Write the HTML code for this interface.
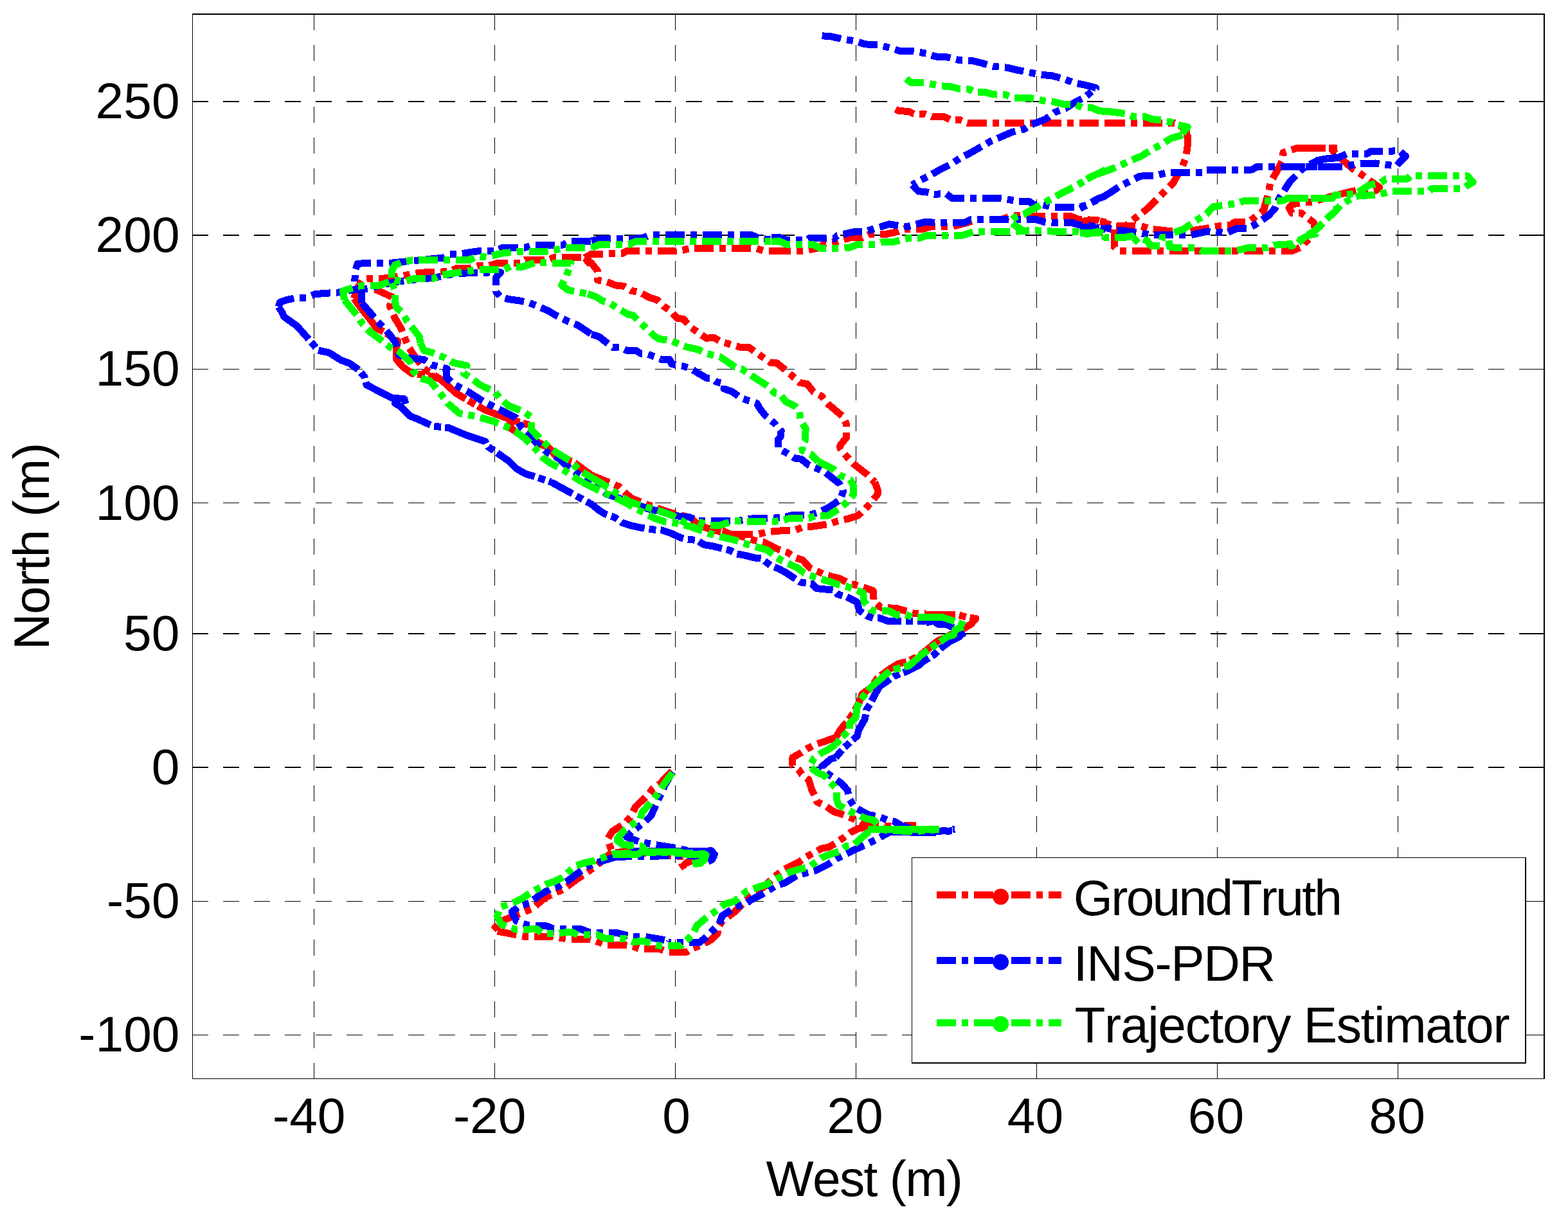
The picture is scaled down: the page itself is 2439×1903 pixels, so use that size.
<!DOCTYPE html>
<html lang="en"><head><meta charset="utf-8"><title>Trajectory comparison: GroundTruth, INS-PDR, Trajectory Estimator</title>
<style>html,body{margin:0;padding:0;background:#fff;overflow:hidden;}body{width:2439px;height:1903px;overflow:hidden;}svg{display:block;}text{font-family:"Liberation Sans",sans-serif;font-size:78.5px;fill:#000;font-kerning:none;white-space:pre;}</style></head><body>
<svg width="2439" height="1903" viewBox="0 0 2439 1903">
<rect x="0" y="0" width="2439" height="1903" fill="#ffffff"/>
<g id="grid" stroke="#000" fill="none" shape-rendering="crispEdges">
<line x1="488.5" y1="1679" x2="488.5" y2="21" stroke-width="1" stroke-dasharray="25 23"/>
<line x1="769.5" y1="1679" x2="769.5" y2="21" stroke-width="1" stroke-dasharray="25 23"/>
<line x1="1050.5" y1="1679" x2="1050.5" y2="21" stroke-width="1" stroke-dasharray="25 23"/>
<line x1="1331.5" y1="1679" x2="1331.5" y2="21" stroke-width="1" stroke-dasharray="25 23"/>
<line x1="1612.5" y1="1679" x2="1612.5" y2="21" stroke-width="1" stroke-dasharray="25 23"/>
<line x1="1893.5" y1="1679" x2="1893.5" y2="21" stroke-width="1" stroke-dasharray="25 23"/>
<line x1="2174.5" y1="1679" x2="2174.5" y2="21" stroke-width="1" stroke-dasharray="25 23"/>
<line x1="299" y1="158.0" x2="2403" y2="158.0" stroke-width="2" stroke-dasharray="25 23"/>
<line x1="299" y1="366.0" x2="2403" y2="366.0" stroke-width="2" stroke-dasharray="25 23"/>
<line x1="299" y1="574.5" x2="2403" y2="574.5" stroke-width="1" stroke-dasharray="25 23"/>
<line x1="299" y1="782.5" x2="2403" y2="782.5" stroke-width="1" stroke-dasharray="25 23"/>
<line x1="299" y1="986.0" x2="2403" y2="986.0" stroke-width="2" stroke-dasharray="25 23"/>
<line x1="299" y1="1194.0" x2="2403" y2="1194.0" stroke-width="2" stroke-dasharray="25 23"/>
<line x1="299" y1="1402.5" x2="2403" y2="1402.5" stroke-width="1" stroke-dasharray="25 23"/>
<line x1="299" y1="1610.5" x2="2403" y2="1610.5" stroke-width="1" stroke-dasharray="25 23"/>
</g>
<g id="curve-red" fill="none" stroke="#ff0000" stroke-width="11" stroke-dasharray="30 9 10 9" stroke-linejoin="round" stroke-linecap="butt" shape-rendering="crispEdges">
<title>GroundTruth</title>
<polyline points="1680.0,344.6 1705.6,342.2 1719.4,347.4 1732.2,351.0 1753.3,351.4 1775.2,351.9 1789.9,356.2 1817.4,359.3 1844.8,360.2 1863.2,357.4 1877.8,355.1 1897.9,351.4 1914.4,350.1 1919.9,345.9 1941.0,345.9 1951.1,338.6 1965.7,327.2 1968.5,316.2 1973.0,301.6 1975.8,285.1 1984.9,268.6 1994.1,251.2 1995.9,237.5 2017.0,230.5 2080.0,230.5"/>
<polyline points="1847.0,210.0 1847.0,228.3 1844.8,244.8 1839.3,258.5 1824.7,285.1 1804.5,305.2 1783.8,325.4 1761.5,342.8 1750.5,352.9"/>
<polyline points="1733.1,356.5 1733.1,384.0 1739.5,390.4 2009.7,390.4 2025.2,384.0 2032.6,374.8 2041.7,365.7 2045.4,356.5 2043.6,346.4 2024.3,331.8 2009.7,331.8 2005.1,323.6 2009.7,318.1 2026.2,314.8 2040.8,314.8 2055.5,309.8 2080.0,303.4"/>
<polyline points="2080.0,303.4 2109.9,296.1 2128.2,298.3 2139.2,297.0 2145.6,291.5 2130.0,280.5 2119.0,272.3 2104.4,263.1 2086.1,246.6 2076.0,237.5 2069.6,230.5 2017.0,230.5"/>
<polyline points="1392.9,170.0 1397.6,172.4 1414.3,173.6 1421.4,177.1 1438.1,177.1 1450.0,181.9 1469.0,181.9 1478.6,186.7 1492.9,186.7 1504.8,191.4 1519.0,191.4 1720.0,191.4"/>
<polyline points="1200.0,390.5 1219.0,390.5 1233.3,390.5 1250.0,390.5 1273.8,385.7 1283.3,378.6 1300.0,376.2 1326.2,369.0 1340.5,370.2 1352.4,364.3 1378.6,364.3 1395.2,360.7 1407.1,356.0 1436.9,356.0 1448.8,352.4 1482.1,352.4 1504.8,346.4 1519.0,341.7 1557.1,341.7 1573.8,335.7 1604.8,335.7 1621.4,336.9 1666.7,336.9 1678.6,341.7 1692.9,341.7 1720.0,345.7"/>
<polyline points="550.7,464.3 554.8,450.0 564.3,434.5 576.2,433.3 604.8,432.9 640.5,426.7 652.4,424.3 697.6,422.6 709.5,417.9 728.6,417.9 742.9,413.8 759.5,413.8 773.8,409.5 809.5,409.5 816.7,404.3 852.4,404.3 861.9,400.5 876.2,400.0 909.5,401.2 920.0,413.1"/>
<polyline points="550.7,464.3 561.9,479.8 576.2,497.6 585.7,510.7 600.0,517.9 619.0,531.0 616.7,540.5 616.7,559.5 627.4,571.4 640.5,581.0 673.8,585.7 685.7,590.5 709.5,611.9 733.3,626.2 754.8,638.1 792.9,652.4 821.4,660.7 831.0,685.7 852.4,695.2 866.7,711.9 890.5,717.9 920.0,739.3" stroke-dasharray="70 5 12 5"/>
<polyline points="583.3,450.0 609.5,461.9 606.4,476.2 614.3,495.2 623.8,510.7 634.5,538.1 645.2,554.8 659.5,573.8 685.7,590.5"/>
<polyline points="792.9,652.4 795.2,666.7 811.9,678.6 828.6,688.1 852.4,695.2"/>
<polyline points="909.5,401.2 920.0,395.2 967.6,394.8 974.8,390.5 1048.6,390.5 1061.7,389.3 1074.8,386.2 1162.9,386.2 1177.1,386.9 1189.0,390.5 1200.0,390.5"/>
<polyline points="909.5,401.2 920.0,409.5 929.5,421.4 929.5,435.7 943.8,438.6 958.1,444.0 970.0,445.2 981.9,452.4 995.0,454.8 1010.5,463.1 1022.4,466.7 1031.9,476.2 1042.6,483.3 1053.3,495.2 1062.9,496.4 1074.8,509.5 1086.7,517.9 1098.6,526.2 1110.5,525.5 1122.4,532.1 1135.5,535.7 1152.1,540.5 1165.2,540.5 1174.8,547.6 1186.7,556.0 1198.6,564.3 1208.1,564.8 1222.4,576.2 1231.9,584.5 1243.8,595.2 1255.7,597.6 1265.2,609.5 1278.3,616.7 1287.9,628.6 1310.5,647.6 1316.4,659.5 1316.4,681.0 1306.9,692.9 1306.9,697.6 1316.4,709.5 1327.1,721.4 1348.6,738.1 1360.5,750.0"/>
<polyline points="1360.5,750.0 1365.2,761.9 1365.2,769.0 1355.7,781.0 1346.2,791.7 1334.3,802.4 1320.0,807.1 1303.3,810.7 1289.0,815.5 1265.2,819.0 1248.6,820.2 1236.7,825.0 1208.1,826.2 1192.6,828.1 1179.5,831.0 1134.3,831.0 1124.8,826.2 1098.6,821.4 1086.7,816.7"/>
<polyline points="920.0,739.3 936.7,746.4 962.9,757.1 974.8,769.0 981.9,775.0 1008.1,785.7 1031.9,794.0 1051.0,800.0 1072.4,804.8 1086.7,816.7 1098.6,821.4 1124.8,828.6 1158.1,835.7 1172.4,840.5 1189.0,844.0 1210.5,854.8 1224.8,859.5 1237.9,867.9 1248.6,871.4 1259.3,883.3 1270.0,888.1 1281.9,894.0 1305.7,900.0 1320.0,907.1 1336.7,911.9 1358.1,919.0 1359.3,935.7 1370.0,945.2 1393.8,946.4 1410.5,951.2 1422.4,954.8 1440.0,954.8"/>
<polyline points="1440.0,956.0 1476.2,956.0 1491.7,957.1 1504.8,960.7 1517.9,962.4 1510.5,971.2 1493.3,981.4 1476.7,988.6 1457.6,998.1 1443.3,1010.0 1431.4,1019.5 1412.4,1029.0 1398.1,1032.6 1383.8,1041.0 1364.8,1055.2 1355.2,1069.5 1341.0,1080.2 1336.2,1093.3 1330.2,1105.2 1321.0,1118.6 1307.1,1135.7 1300.0,1147.6" stroke-dasharray="46 6 11 6"/>
<polyline points="1300.0,1147.6 1282.9,1153.6 1268.6,1158.3 1256.7,1164.3 1246.0,1171.4 1232.9,1178.6 1232.9,1190.5 1242.4,1197.6 1247.1,1204.8 1257.9,1213.1 1262.6,1228.6 1267.4,1238.1 1271.0,1247.6 1285.2,1254.8 1297.1,1263.1 1309.0,1266.7 1321.0,1271.4 1332.9,1276.2 1347.1,1284.5 1373.3,1285.7 1430.5,1284.5"/>
<polyline points="1349.5,1286.9 1335.2,1289.3 1323.3,1295.2 1313.8,1302.4 1301.9,1310.7 1290.0,1317.9 1278.1,1320.2 1265.0,1327.4 1254.3,1333.3 1242.4,1341.7 1230.5,1347.6 1218.6,1353.6 1204.3,1364.3 1190.0,1378.6 1178.1,1386.9 1166.2,1395.2 1151.9,1409.5 1142.4,1419.0 1123.3,1433.3 1116.2,1445.2 1116.2,1452.4 1106.7,1461.9 1092.4,1470.2 1075.7,1476.2 1068.6,1481.0 1054.3,1481.0 1040.0,1481.0"/>
<polyline points="1045.0,1200.0 1039.0,1206.0 1027.1,1219.0 1015.2,1227.4 1008.1,1236.9 989.0,1254.8 981.9,1269.0 973.6,1279.8 952.1,1294.0 945.0,1306.0 952.1,1326.2 981.9,1325.7 1053.3,1332.1 1084.3,1334.5 1072.4,1340.5 1058.1,1350.0"/>
<polyline points="952.1,1326.2 927.1,1347.6 896.2,1369.0 877.1,1383.3 861.7,1390.5 848.6,1396.4 827.1,1414.3 815.2,1419.0 803.3,1423.8 779.5,1433.3 766.4,1447.6 801.0,1454.3 815.2,1457.1 859.3,1457.1 872.4,1459.5 886.7,1461.4 915.2,1461.4 927.1,1464.3 942.6,1470.2 970.0,1470.2 984.3,1472.6 996.2,1476.7 1026.0,1476.7 1037.9,1481.0 1040.0,1481.0"/>
<polyline points="1719.9,191.4 1826.7,191.4 1844.3,200.2 1847.8,217.8"/>
<polyline points="1079.1,1338.9 1068.0,1341.9 1061.0,1349.0" stroke-dasharray="none"/>
</g>
<g id="curve-blue" fill="none" stroke="#0000ff" stroke-width="11" stroke-dasharray="30 9 10 9" stroke-linejoin="round" stroke-linecap="butt" shape-rendering="crispEdges">
<title>INS-PDR</title>
<polyline points="2080.0,259.8 1991.4,259.5 1954.7,259.8 1947.4,264.0 1874.1,264.0 1870.5,268.6 1815.5,268.6 1797.2,273.2 1773.4,274.1 1760.6,280.5 1740.4,290.6 1727.1,299.7 1714.8,307.1 1694.7,317.1 1680.0,324.5"/>
<polyline points="1680.0,353.8 1719.4,354.3 1733.1,357.4 1760.6,360.5 1788.1,365.3 1837.5,366.0 1852.2,365.7 1876.0,360.5 1892.5,361.1 1908.9,362.0 1923.6,355.6 1939.5,356.0 1952.9,349.2 1973.0,335.5 1983.1,324.5 1989.5,308.9 2006.0,283.3 2017.4,271.4 2028.0,261.3 2050.0,249.4 2065.5,246.6 2080.0,243.9"/>
<polyline points="2065.6,246.6 2080.6,245.7 2095.2,239.3 2126.4,239.3 2132.8,235.3 2163.0,235.3 2175.8,234.2 2186.4,243.0 2176.7,253.0 2172.2,258.0 2148.4,255.4 2139.2,254.0 2109.9,254.9 2091.6,259.8 2000.0,259.8"/>
<polyline points="1278.6,55.7 1292.9,56.9 1311.9,61.0 1331.0,64.0 1345.2,68.8 1366.7,70.0 1385.7,74.8 1400.0,79.5 1421.4,80.0 1440.5,83.1 1454.8,87.9 1473.8,89.0 1492.9,93.8 1514.3,95.0 1528.6,98.6 1545.2,103.3 1566.7,105.2 1583.3,109.3 1602.4,112.9 1619.0,116.4 1635.7,117.6 1654.8,122.9 1669.0,128.3 1688.1,132.4 1704.8,136.7 1688.1,151.0 1673.8,158.1 1657.1,168.8 1640.5,174.8 1626.2,185.5 1604.8,193.8 1592.9,201.0 1573.8,205.7 1554.8,214.0 1540.5,220.0 1526.2,228.3 1509.5,237.9 1495.2,245.0 1478.6,255.7 1461.9,264.0 1447.6,272.4 1428.6,281.9 1419.0,287.9"/>
<polyline points="1419.0,287.6 1428.6,297.6 1440.5,298.8 1453.6,302.4 1471.4,301.2 1481.0,308.3 1495.2,308.3 1554.8,308.3 1564.3,309.5 1581.0,313.1 1600.0,313.1 1609.5,319.0 1619.0,317.9 1635.7,322.1 1664.3,322.1 1678.6,322.1 1690.5,319.0 1707.1,309.5 1720.0,304.8"/>
<polyline points="1200.0,369.0 1211.9,369.0 1223.8,373.8 1254.8,373.8 1259.5,370.2 1297.6,371.4 1302.4,366.7 1328.6,360.7 1345.2,360.7 1356.0,357.1 1383.3,348.8 1397.6,351.2 1411.9,352.4 1439.3,345.2 1454.8,346.4 1500.0,346.4 1509.5,341.7 1611.9,341.7 1623.8,345.2 1635.7,346.4 1666.7,346.4 1678.6,350.0 1692.9,350.0 1720.0,357.1"/>
<polyline points="562.6,471.4 561.9,450.0 551.7,442.9 552.4,421.4 556.0,410.7 566.7,409.5 604.8,409.5 640.5,406.0 676.2,402.4 689.3,401.2 697.6,395.2 714.3,395.2 741.7,391.0 770.2,390.5 781.0,385.7 816.7,385.2 829.8,381.0 876.2,381.0 885.7,375.2 920.0,375.0"/>
<polyline points="562.6,471.4 576.2,486.9 585.7,498.8 597.6,510.7 604.8,519.0 615.5,533.3 620.2,552.4 638.1,557.1 659.5,559.5 671.4,567.9 695.2,573.8 694.0,586.9 707.1,598.8 726.2,608.3 739.3,616.7 752.4,625.0 771.4,634.5 785.7,641.7 802.4,650.0 810.7,664.3 826.2,679.8 838.1,692.9 852.4,704.8 869.0,713.1 881.0,725.0 900.0,738.1 920.0,750.0"/>
<polyline points="433.3,477.4 435.7,470.2 447.6,466.2 462.4,463.1 476.2,463.1 490.5,457.6 528.6,454.8 547.6,451.2 573.8,448.8 592.9,443.3 619.0,438.1 638.1,435.7 676.2,432.1 697.6,427.4 733.3,424.3 778.6,423.8 771.9,431.0 771.9,454.8 778.6,461.9 790.5,465.5 808.3,467.9 823.8,471.4 852.4,483.3 864.3,490.5 883.3,500.0 898.8,506.0 920.0,520.2"/>
<polyline points="433.3,477.4 439.3,486.9 441.7,492.9 461.9,507.1 481.0,528.6 495.2,545.2 511.9,548.8 531.0,560.7 544.0,565.5 557.1,575.0 566.7,585.7 570.2,598.8 590.5,609.5 609.5,619.0 635.7,621.4 614.3,627.4 623.8,633.3 638.1,647.6 647.6,651.2 673.8,663.1 697.6,665.5 710.7,671.0 726.2,677.4 754.8,686.9 759.5,695.2 790.5,716.7 802.4,728.6 816.7,736.9 842.9,745.2 857.1,750.0" stroke-dasharray="70 6 11 6"/>
<polyline points="920.0,520.2 931.9,523.8 943.8,533.3 953.3,540.5 965.2,541.0 974.8,545.2 989.0,545.2 996.2,550.0 1004.5,550.0 1017.6,554.8 1029.5,559.5 1041.4,559.5 1045.0,566.7 1060.5,569.0 1074.8,573.8 1086.7,581.0 1098.6,588.1 1105.7,588.1 1114.0,594.0 1127.1,597.6 1126.0,604.8 1139.0,609.5 1152.1,619.0 1165.2,623.8 1177.1,627.4 1181.9,635.7 1190.2,646.4 1205.7,659.5 1215.2,670.2 1214.0,679.8 1210.5,683.3 1210.5,697.6 1223.6,704.8 1236.7,713.1 1246.2,714.3 1258.1,723.8 1270.0,728.6 1284.3,735.7"/>
<polyline points="920.0,375.0 934.3,371.4 985.5,371.4 999.8,370.2 1011.7,365.5 1156.9,365.5 1168.8,365.5 1181.9,371.4 1200.0,372.6"/>
<polyline points="1284.3,735.7 1305.7,752.4 1311.7,764.3 1306.9,777.4 1287.9,790.5 1274.8,796.4 1260.5,801.2 1234.3,801.2 1220.0,804.8 1205.7,806.0 1176.0,806.0 1146.2,810.7 1086.7,810.7 1072.4,804.8 1058.1,803.6 1034.3,797.6 1008.1,791.7 979.5,781.0 943.8,769.0 931.9,759.5 920.0,750.0"/>
<polyline points="857.1,750.0 920.0,784.5 931.9,794.0 941.4,800.0 955.7,804.8 967.6,813.1 981.9,817.9 998.6,821.4 1014.0,823.8 1029.5,825.0 1043.8,829.8 1059.3,836.9 1068.8,839.3 1084.3,840.5 1095.0,847.6 1109.3,850.0 1123.6,853.6 1134.3,856.0 1146.2,861.9 1159.3,864.3 1173.6,867.9 1184.3,869.0 1198.6,879.8 1212.9,885.7 1223.6,891.7 1234.3,898.8 1245.0,906.0 1262.9,908.3 1270.0,915.5 1279.5,916.7 1296.2,917.9 1303.3,925.0 1316.4,928.6 1333.1,936.9 1336.7,950.0 1348.6,958.3 1358.1,961.9 1368.8,961.9 1381.9,966.7 1440.0,966.7" stroke-dasharray="38 7 11 7"/>
<polyline points="1440.0,969.0 1452.4,966.2 1459.5,971.4 1471.4,971.4 1488.1,978.6 1502.4,982.1 1490.5,991.7 1476.2,998.8 1459.5,1011.9 1452.4,1019.0 1433.3,1031.0 1428.6,1035.7 1409.5,1045.2 1402.4,1047.6 1390.5,1052.4 1373.8,1064.3 1369.0,1066.7 1359.5,1083.3 1353.6,1095.2 1347.6,1104.8 1345.2,1119.0 1335.7,1135.7 1333.3,1145.2 1322.6,1154.8 1311.9,1164.3 1300.0,1178.6" stroke-dasharray="46 6 11 6"/>
<polyline points="1300.0,1178.6 1292.4,1181.0 1278.1,1192.9 1285.2,1202.4 1299.5,1211.9 1309.0,1219.0 1318.6,1229.8 1321.0,1242.9 1329.3,1256.0 1340.0,1261.9 1351.9,1267.9 1366.2,1270.2 1380.5,1276.2 1392.4,1278.6 1401.9,1284.5 1421.0,1290.5 1456.7,1294.0 1485.2,1290.5"/>
<polyline points="1397.1,1294.0 1382.9,1295.2 1361.4,1307.1 1349.5,1313.1 1325.7,1323.8 1313.8,1329.8 1301.9,1335.7 1287.6,1345.2 1268.6,1354.8 1254.3,1358.3 1240.0,1361.9 1221.0,1373.8 1205.5,1378.6 1194.8,1385.7 1182.9,1392.9 1168.6,1400.0 1159.0,1407.1 1144.8,1410.7 1123.3,1425.0 1118.6,1438.1 1109.0,1447.6 1097.1,1459.5 1087.6,1466.7 1071.0,1466.7 1040.0,1466.7"/>
<polyline points="1046.2,1201.2 1034.3,1221.4 1022.4,1247.6 1012.9,1269.0 1003.3,1278.6 984.3,1292.9 974.8,1302.4 993.8,1309.5 1017.6,1314.3 1048.6,1319.0 1077.1,1325.0 1106.9,1323.8 1112.9,1329.8 1102.1,1340.5 1077.1,1331.0 958.1,1333.3"/>
<polyline points="958.1,1333.3 934.3,1340.5 915.2,1347.6 901.0,1357.1 881.9,1371.4 870.0,1378.6 855.7,1383.3 839.0,1392.9 824.8,1404.8 808.1,1409.5 796.2,1419.0 803.3,1433.3 820.0,1439.3 851.0,1441.0 860.5,1445.2 874.8,1445.7 903.3,1445.7 915.2,1450.0 930.7,1451.2 958.1,1451.2 972.4,1454.8 984.3,1457.1 1001.0,1457.1 1029.5,1461.9 1041.4,1464.8 1040.0,1466.7"/>
<polyline points="980.4,1324.8 1091.2,1324.8 1107.3,1324.8 1111.3,1329.3 1107.8,1337.4 1101.3,1340.4" stroke-dasharray="none"/>
<polyline points="1372.6,1294.5 1456.2,1295.5" stroke-dasharray="none"/>
<polyline points="1471.3,1293.2 1481.3,1292.9" stroke-dasharray="none"/>
</g>
<g id="curve-green" fill="none" stroke="#00ff00" stroke-width="11" stroke-dasharray="30 9 10 9" stroke-linejoin="round" stroke-linecap="butt" shape-rendering="crispEdges">
<title>Trajectory Estimator</title>
<polyline points="1839.3,210.0 1821.0,215.5 1806.4,224.7 1789.9,233.8 1775.2,243.0 1753.3,252.1 1740.4,258.5 1724.0,264.9 1698.3,274.1 1680.0,285.1"/>
<polyline points="1826.5,362.0 1841.2,356.5 1859.5,343.7 1876.9,332.7 1887.0,321.7 1899.8,319.9 1925.4,316.2 1934.6,312.6 1993.2,312.6 2006.0,308.0 2080.0,308.0"/>
<polyline points="1680.0,362.0 1713.0,362.0 1718.5,369.3 1749.6,369.3 1760.6,367.5 1762.4,378.5 1771.6,369.3 1784.4,374.8 1789.9,382.2 1804.5,382.2 1808.2,369.3 1817.4,369.3 1819.2,384.0 1830.2,385.8 1859.5,385.5 1870.5,390.4 1916.3,390.4 1929.1,388.6 1941.9,385.5 1971.2,385.5 1982.2,381.2 1998.7,380.3 2018.8,378.5 2028.0,369.3 2037.1,363.8 2046.3,358.4 2062.8,341.9 2080.0,323.6"/>
<polyline points="2000.0,308.0 2073.3,308.0 2076.9,303.4 2109.9,301.6 2117.2,296.1 2130.0,287.8 2146.5,285.1 2155.7,278.7 2168.5,278.1 2189.6,278.1 2194.1,273.6 2282.1,273.6 2291.2,283.3 2274.7,293.3 2227.1,293.3 2222.5,297.9 2161.2,297.9 2146.5,302.5 2135.5,303.4 2109.9,305.2 2098.9,310.7 2085.2,319.3 2076.9,329.0 2054.9,349.2 2047.6,363.8 2036.6,365.7 2023.8,372.1 2011.0,382.2 2000.0,382.2"/>
<polyline points="1409.5,122.4 1416.7,128.3 1438.1,128.3 1461.9,133.8 1476.2,134.3 1492.9,138.3 1507.1,139.0 1516.7,143.3 1533.3,143.8 1545.2,146.9 1564.3,147.4 1576.2,152.1 1585.7,152.6 1602.4,152.6 1623.8,156.9 1638.1,158.1 1654.8,162.4 1673.8,162.9 1683.3,167.6 1697.6,167.6 1709.5,172.4 1720.0,173.6"/>
<polyline points="1720.0,264.3 1700.0,273.8 1676.2,288.1 1652.4,300.0 1628.6,313.1 1609.5,323.8 1592.9,333.3 1578.6,338.1 1571.4,345.2 1581.0,352.4 1592.9,359.5 1604.8,358.3 1623.8,359.5 1652.4,360.7 1676.2,360.7 1690.5,364.3 1707.1,360.7 1720.0,364.3"/>
<polyline points="1200.0,376.2 1211.9,375.0 1223.8,380.5 1264.3,380.5 1276.2,386.2 1307.1,386.2 1320.2,385.7 1333.3,380.5 1361.9,380.5 1373.8,376.2 1390.5,376.2 1414.3,370.2 1431.0,370.2 1440.5,366.7 1478.6,366.7 1495.2,366.7 1516.7,360.0 1535.7,360.7 1571.4,360.7 1592.9,359.5"/>
<polyline points="653.6,533.3 652.4,523.8 642.9,511.9 633.3,500.0 626.2,486.9 616.7,478.6 614.3,469.0 614.3,451.2 609.5,440.5 609.5,421.4 614.3,412.4 628.6,407.1 641.7,404.8 729.8,404.8 740.5,399.3 757.1,400.0 781.0,394.0 811.9,391.0 851.2,391.0 866.7,388.1 878.6,385.7 920.0,385.7"/>
<polyline points="653.6,533.3 659.5,545.2 672.6,548.8 692.9,557.1 704.8,564.3 726.2,569.0 721.4,581.0 734.5,589.3 746.4,598.8 769.0,609.5 779.8,621.4 790.5,631.0 814.3,640.5 826.2,648.8 826.2,667.9 840.5,683.3 853.6,695.2 866.7,704.8 888.1,717.9 900.0,731.0 920.0,742.9"/>
<polyline points="535.7,466.7 533.3,452.9 557.1,445.2 575.0,444.0 590.5,444.0 611.9,435.7 629.8,438.1 642.9,433.8 672.6,433.8 684.5,428.6 697.6,426.2 723.8,422.6 738.1,420.2 752.4,419.5 783.3,419.5 794.0,414.3 811.9,415.5 833.3,408.3 850.0,409.0 888.1,409.5 881.0,429.8 873.8,444.0 883.3,451.2 900.0,454.8 914.3,457.1 920.0,459.5"/>
<polyline points="535.7,466.7 557.1,492.9 564.3,504.8 576.2,516.7 595.2,531.0 607.1,540.5 621.4,547.6 638.1,563.1 642.9,577.4 652.4,588.1 669.0,592.9 681.0,607.1 697.6,628.6 714.3,642.9 738.1,647.6 752.4,651.2 769.0,656.0 788.1,664.3 801.2,671.4 816.7,682.1 833.3,698.8 844.0,711.9 857.1,721.4 876.2,731.0 890.5,740.5 904.8,750.0"/>
<polyline points="914.3,457.1 927.1,461.9 939.0,469.0 948.6,471.9 962.9,481.0 977.1,489.3 984.3,490.5 996.2,502.4 1006.9,511.9 1017.6,522.6 1024.8,527.4 1043.8,529.8 1055.7,535.7 1070.0,540.5 1086.7,544.0 1098.6,550.0 1120.0,555.2 1131.9,563.1 1143.8,571.4 1153.3,573.8 1167.6,583.3 1178.3,590.5 1191.4,598.8 1205.7,611.9 1212.9,613.1 1222.4,625.0 1236.7,632.1 1243.8,640.5 1245.0,654.8 1253.3,666.7 1252.1,685.7 1247.4,692.9 1248.1,701.2 1261.7,707.1 1272.4,717.9"/>
<polyline points="920.0,385.7 931.9,380.5 978.3,380.5 989.0,375.5 1200.0,375.5"/>
<polyline points="1272.4,717.9 1296.2,729.8 1305.7,739.3 1322.4,746.4 1327.1,754.8 1327.1,770.2 1316.4,782.1 1306.9,790.5 1287.9,802.4 1268.8,802.4 1258.1,806.4 1228.3,806.4 1215.2,810.7 1202.1,811.2 1156.9,811.2 1141.4,810.7 1117.6,817.9 1101.0,816.7 1086.7,811.9"/>
<polyline points="904.8,750.0 934.3,764.3 951.0,771.4 974.8,783.3 993.8,794.0 1020.0,807.1 1034.3,811.9 1053.3,814.3 1072.4,819.0 1086.7,823.8 1102.1,829.8 1117.6,834.5 1143.8,840.5 1155.7,845.2 1170.0,848.8 1193.8,856.0 1204.5,864.3 1216.4,872.6 1240.2,883.3 1251.0,891.7 1266.4,897.6 1290.2,904.8 1303.3,909.5 1318.8,913.1 1342.6,922.6 1343.8,935.7 1354.5,948.8 1362.9,951.2 1381.9,950.0 1395.0,957.1 1408.1,956.0 1420.0,960.7 1440.0,960.7"/>
<polyline points="920.0,742.9 934.3,751.2 955.7,765.5 979.5,781.0 1010.5,790.5 1036.7,798.8 1046.2,802.4 1062.9,811.9 1086.7,823.8"/>
<polyline points="1440.0,960.7 1450.0,960.7 1466.7,960.7 1481.0,965.5 1502.4,973.8 1485.7,979.8 1483.3,988.1 1473.8,990.5 1442.9,1011.9 1433.3,1019.0 1414.3,1035.7 1400.0,1039.3 1385.7,1042.9 1354.8,1069.0 1345.2,1081.0 1339.3,1088.1 1333.3,1100.0 1331.0,1116.7 1321.4,1126.2 1321.4,1135.7 1309.5,1147.6 1300.0,1158.3" stroke-dasharray="46 6 11 6"/>
<polyline points="1300.0,1158.3 1287.6,1166.7 1278.1,1171.4 1266.2,1179.8 1259.0,1192.9 1272.1,1202.4 1282.9,1207.1 1292.4,1217.9 1301.9,1228.6 1301.9,1245.2 1304.3,1252.4 1321.0,1261.9 1334.0,1267.9 1347.1,1273.8 1359.0,1276.2 1367.4,1285.7 1378.1,1291.7 1421.0,1294.0 1459.0,1290.5"/>
<polyline points="1351.9,1294.0 1338.8,1304.8 1328.1,1314.3 1316.2,1316.7 1305.5,1325.0 1290.0,1329.8 1278.1,1334.5 1259.0,1348.8 1243.6,1352.4 1228.1,1357.1 1192.4,1376.2 1174.5,1382.1 1161.4,1386.9 1142.4,1402.4 1126.9,1407.1 1116.2,1415.5 1094.8,1431.0 1084.0,1440.5 1076.9,1454.8 1059.0,1471.4 1040.0,1471.4"/>
<polyline points="1046.2,1202.4 1031.9,1221.4 1024.8,1233.3 1015.2,1245.2 998.6,1264.3 996.2,1273.8 970.0,1292.9 960.5,1304.8 970.0,1314.3 981.9,1315.5 998.6,1316.7 1005.7,1326.2 1058.1,1327.4 1101.0,1328.6 1091.4,1340.5 1077.1,1344.0"/>
<polyline points="981.9,1327.4 953.3,1329.0 924.8,1339.3 908.1,1342.9 893.8,1347.6 874.8,1365.5 862.9,1371.4 848.6,1376.2 824.8,1389.3 812.9,1397.6 801.0,1403.6 777.1,1411.9 773.6,1426.2 779.5,1438.1 803.3,1446.4 817.6,1446.4 834.3,1445.2 843.8,1452.4 862.9,1452.4 874.8,1451.2 889.0,1450.0 898.6,1454.8 912.9,1454.8 929.5,1454.8 942.6,1460.7 972.4,1460.7 984.3,1465.5 1001.0,1464.3 1012.9,1467.9 1024.8,1471.4 1040.0,1471.0"/>
<polyline points="1719.9,173.5 1726.9,173.8 1750.4,176.7 1762.2,181.1 1779.8,181.1 1791.5,185.5 1806.2,187.0 1820.8,189.9 1832.6,194.3 1847.3,197.8 1839.3,207.5"/>
<polyline points="953.2,1329.5 990.5,1329.5 1000.6,1325.3 1056.0,1325.1 1066.0,1329.3 1098.2,1329.8 1095.2,1338.4 1089.2,1343.4 1080.1,1344.5" stroke-dasharray="none"/>
<polyline points="964.3,1299.1 960.3,1308.2 968.3,1314.2 982.4,1315.8" stroke-dasharray="none"/>
<polyline points="1350.4,1290.6 1461.2,1290.9" stroke-dasharray="none"/>
</g>
<g id="ticks" fill="#000" shape-rendering="crispEdges">
<rect x="488" y="1658" width="1" height="21"/>
<rect x="488" y="21" width="1" height="21"/>
<rect x="769" y="1658" width="1" height="21"/>
<rect x="769" y="21" width="1" height="21"/>
<rect x="1050" y="1658" width="1" height="21"/>
<rect x="1050" y="21" width="1" height="21"/>
<rect x="1331" y="1658" width="1" height="21"/>
<rect x="1331" y="21" width="1" height="21"/>
<rect x="1612" y="1658" width="1" height="21"/>
<rect x="1612" y="21" width="1" height="21"/>
<rect x="1893" y="1658" width="1" height="21"/>
<rect x="1893" y="21" width="1" height="21"/>
<rect x="2174" y="1658" width="1" height="21"/>
<rect x="2174" y="21" width="1" height="21"/>
<rect x="299" y="157" width="21" height="2"/>
<rect x="2382" y="157" width="21" height="2"/>
<rect x="299" y="365" width="21" height="2"/>
<rect x="2382" y="365" width="21" height="2"/>
<rect x="299" y="574" width="21" height="1"/>
<rect x="2382" y="574" width="21" height="1"/>
<rect x="299" y="782" width="21" height="1"/>
<rect x="2382" y="782" width="21" height="1"/>
<rect x="299" y="985" width="21" height="2"/>
<rect x="2382" y="985" width="21" height="2"/>
<rect x="299" y="1193" width="21" height="2"/>
<rect x="2382" y="1193" width="21" height="2"/>
<rect x="299" y="1402" width="21" height="1"/>
<rect x="2382" y="1402" width="21" height="1"/>
<rect x="299" y="1610" width="21" height="1"/>
<rect x="2382" y="1610" width="21" height="1"/>
</g>
<g id="axes" fill="#000" shape-rendering="crispEdges">
<rect x="299" y="21" width="2104" height="2"/>
<rect x="2401" y="21" width="2" height="1658"/>
<rect x="299" y="1678" width="2104" height="1"/>
<rect x="299" y="21" width="1" height="1658"/>
</g>
<g id="ylabels">
<text x="148.60" y="184.10">250</text>
<text x="148.60" y="391.80">200</text>
<text x="148.60" y="600.40">150</text>
<text x="148.60" y="808.50">100</text>
<text x="192.08" y="1012.40">50</text>
<text x="235.84" y="1220.20">0</text>
<text x="166.08" y="1428.20">-50</text>
<text x="122.33" y="1636.30">-100</text>
</g>
<g id="xlabels">
<text x="423.99" y="1763.00">-40</text>
<text x="704.89" y="1763.00">-20</text>
<text x="1030.27" y="1763.00">0</text>
<text x="1286.36" y="1763.00">20</text>
<text x="1566.74" y="1763.00">40</text>
<text x="1847.74" y="1763.00">60</text>
<text x="2129.62" y="1763.00">80</text>
</g>
<text x="1191.55" y="1860.50" style="letter-spacing:-1.691px">West (m)</text>
<text transform="translate(76.1,1004.90) rotate(-90)" x="-6.45" y="0" style="letter-spacing:-1.104px">North (m)</text>
<g id="legend">
<rect x="1418" y="1334" width="956" height="321" fill="#ffffff"/>
<g fill="#000" shape-rendering="crispEdges">
<rect x="1418" y="1334" width="956" height="1"/>
<rect x="1418" y="1334" width="1" height="321"/>
<rect x="2372" y="1334" width="2" height="321"/>
<rect x="1418" y="1653" width="956" height="2"/>
</g>
<line x1="1457" y1="1392.5" x2="1651" y2="1392.5" stroke="#ff0000" stroke-width="11" stroke-dasharray="30 9 10 9" shape-rendering="crispEdges"/>
<circle cx="1556.6" cy="1395.3" r="12.5" fill="#ff0000"/>
<text x="1669.80" y="1424.10" style="letter-spacing:-2.686px">GroundTruth</text>
<line x1="1457" y1="1494.6" x2="1651" y2="1494.6" stroke="#0000ff" stroke-width="11" stroke-dasharray="30 9 10 9" shape-rendering="crispEdges"/>
<circle cx="1556.6" cy="1497.0" r="12.5" fill="#0000ff"/>
<text x="1669.83" y="1526.30" style="letter-spacing:-1.411px">INS-PDR</text>
<line x1="1457" y1="1591.4" x2="1651" y2="1591.4" stroke="#00ff00" stroke-width="11" stroke-dasharray="30 9 10 9" shape-rendering="crispEdges"/>
<circle cx="1556.6" cy="1593.4" r="12.5" fill="#00ff00"/>
<text x="1671.44" y="1621.90" style="letter-spacing:-1.323px">Trajectory Estimator</text>
</g>
</svg>
</body></html>
